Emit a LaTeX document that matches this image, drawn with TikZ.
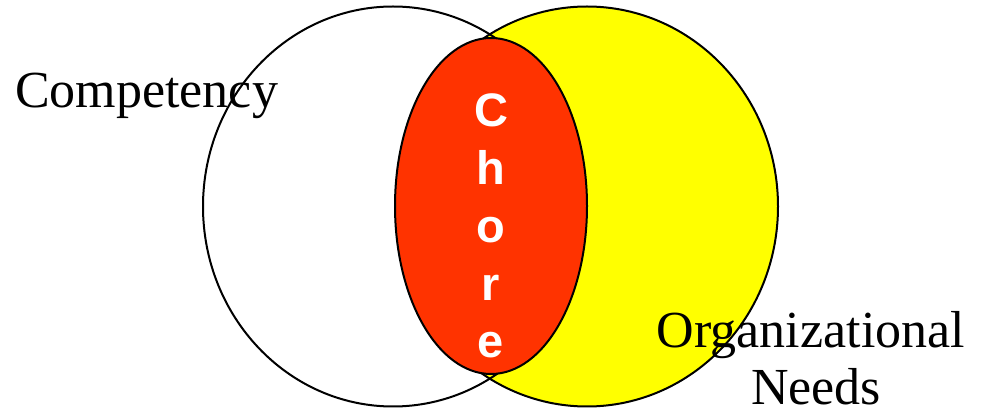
\documentclass[tikz,border=0pt]{standalone}
\usepackage{fontspec}
\setmainfont{Liberation Serif}
\newfontfamily\chorefont{Liberation Sans}
\definecolor{chorered}{HTML}{FF3300}
\definecolor{needsyellow}{HTML}{FFFF00}
\tikzset{
    venn line/.style={draw=black, line width=2pt},
    set label/.style={font=\fontsize{52}{58}\selectfont, inner sep=0pt, anchor=base},
    chore letter/.style={font=\chorefont\bfseries\fontsize{47}{50}\selectfont, text=white, inner sep=0pt, anchor=base}
}
\begin{document}
\begin{tikzpicture}[x=1pt, y=-1pt]
                \useasboundingbox (0,0) rectangle (988,411);
                % Sets
                \fill[needsyellow] (587,206.5) ellipse [x radius=191pt, y radius=200pt];
                \draw[venn line] (393,206.5) ellipse [x radius=190pt, y radius=200pt];
                \draw[venn line] (587,206.5) ellipse [x radius=191pt, y radius=200pt];
                
                % Overlap
                \draw[venn line, fill=chorered] (491,206) ellipse [x radius=96pt, y radius=168pt];
                
                % Overlap label, one letter per line
                \foreach \l [count=\i] in {C,h,o,r,e} {
                    \node[chore letter] (chore\i) at (491, 127+57.75*\i-57.75) {\l};
                }
                
                % Set labels
                \node[set label, anchor=base west] (competency) at (15,108) {Competency};
                \node[set label] (organizational) at (811,348) {Organizational};
                \node[set label] (needs) at (816,405) {Needs};
\end{tikzpicture}
\end{document}
